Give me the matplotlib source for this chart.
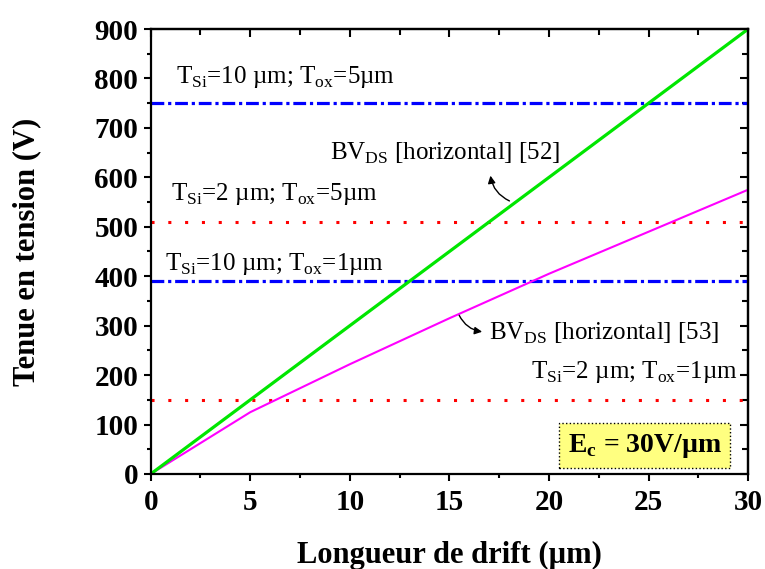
import numpy as np
import matplotlib
matplotlib.use('Agg')
from matplotlib import pyplot as plt
from matplotlib.ticker import MultipleLocator

plt.rcParams['font.family'] = ['Liberation Serif', 'DejaVu Serif']
plt.rcParams['mathtext.fontset'] = 'custom'
plt.rcParams['mathtext.rm'] = 'Liberation Serif'
plt.rcParams['mathtext.bf'] = 'Liberation Serif:bold'

# donnees
drift = [0, 5, 10, 15, 20, 25, 30]
bv52 = [0, 150, 300, 450, 600, 750, 900]
bv53 = [0, 125, 222, 315, 405, 490, 575]
seuils_blue = [750, 390]
seuils_red = [510, 150]

fig = plt.figure(figsize=(7.65, 5.69), dpi=100)
ax = fig.add_axes([0.197, 0.167, 0.781, 0.782])

for y in seuils_red:
    ax.axhline(y, color='red', ls=(0, (1, 4.5)), lw=2.2)
for y in seuils_blue:
    ax.axhline(y, color='blue', ls=(0, (4, 1.2, 1, 1.2)), lw=2.3)

ax.plot(drift, bv53, color='magenta', lw=1.5)
ax.plot(drift, bv52, color='#00e600', lw=2.3)

ax.set_xlim(0, 30)
ax.set_ylim(0, 900)
ax.xaxis.set_major_locator(MultipleLocator(5))
ax.xaxis.set_minor_locator(MultipleLocator(2.5))
ax.yaxis.set_major_locator(MultipleLocator(100))
ax.yaxis.set_minor_locator(MultipleLocator(50))
ax.tick_params(which='both', direction='out', width=1.5)
ax.tick_params(which='major', length=5, labelsize=21)
ax.tick_params(axis='x', which='major', pad=6)
ax.tick_params(axis='y', which='major', pad=4)
ax.tick_params(which='minor', length=3)
for lab in ax.get_xticklabels() + ax.get_yticklabels():
    lab.set_fontweight('bold')
for s in ax.spines.values():
    s.set_linewidth(1.6)

# ticks du haut et de droite vers l'interieur
top = ax.secondary_xaxis('top')
top.xaxis.set_major_locator(MultipleLocator(5))
top.xaxis.set_minor_locator(MultipleLocator(2.5))
top.tick_params(which='both', direction='in', width=1.5, labeltop=False)
top.tick_params(which='major', length=6)
top.tick_params(which='minor', length=4)
right = ax.secondary_yaxis('right')
right.yaxis.set_major_locator(MultipleLocator(100))
right.yaxis.set_minor_locator(MultipleLocator(50))
right.tick_params(which='both', direction='in', width=1.5, labelright=False)
right.tick_params(which='major', length=6)
right.tick_params(which='minor', length=4)
top.spines['top'].set_linewidth(1.6)
right.spines['right'].set_linewidth(1.6)

ax.set_xlabel('Longueur de drift (µm)', fontsize=22, fontweight='bold', labelpad=18)
ax.set_ylabel('Tenue en tension (V)', fontsize=22, fontweight='bold', labelpad=38)

fs = 18
ax.text(1.26, 791, r'T$_{\mathregular{Si}}$=10 µm; T$_{\mathregular{ox}}$=5µm', fontsize=fs, va='baseline')
ax.text(9.0, 635, r'BV$_{\mathregular{DS}}$ [horizontal] [52]', fontsize=fs, va='baseline')
ax.text(1.0, 554, r'T$_{\mathregular{Si}}$=2 µm; T$_{\mathregular{ox}}$=5µm', fontsize=fs, va='baseline')
ax.text(0.7, 413, r'T$_{\mathregular{Si}}$=10 µm; T$_{\mathregular{ox}}$=1µm', fontsize=fs, va='baseline')
ax.text(17.0, 271, r'BV$_{\mathregular{DS}}$ [horizontal] [53]', fontsize=fs, va='baseline')
ax.text(29.45, 194, r'T$_{\mathregular{Si}}$=2 µm; T$_{\mathregular{ox}}$=1µm', fontsize=fs, va='baseline', ha='right')

ax.annotate('', xy=(17.04, 609), xytext=(18.14, 550),
            arrowprops=dict(arrowstyle='-|>', color='black', lw=1,
                            connectionstyle='arc3,rad=-0.3', mutation_scale=11))
ax.annotate('', xy=(16.78, 287), xytext=(15.43, 326),
            arrowprops=dict(arrowstyle='-|>', color='black', lw=1,
                            connectionstyle='arc3,rad=0.3', mutation_scale=11))

ax.text(24.8, 57, r'E$_{\mathbf{c}}$ = 30V/µm', fontsize=20, fontweight='bold',
        ha='center', va='center',
        bbox=dict(boxstyle='square,pad=0.3', fc='#ffff80', ec='black', ls=':', lw=1))

fig.savefig('out.png', dpi=100)
